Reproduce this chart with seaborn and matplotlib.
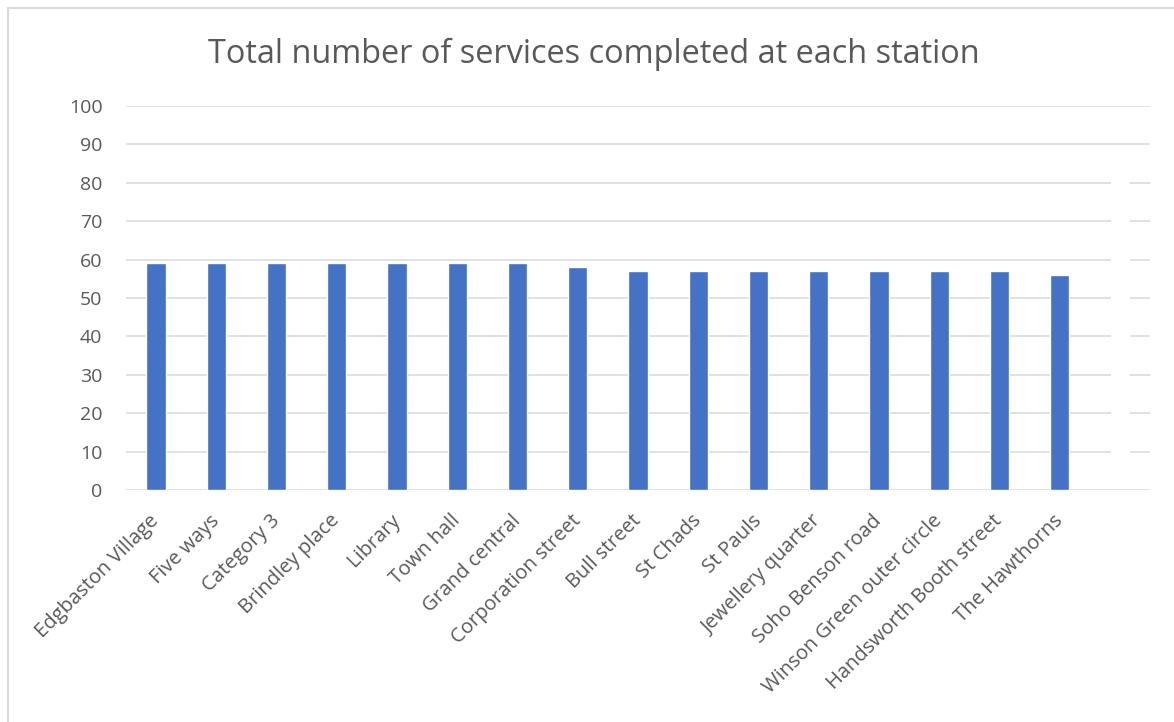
import pandas as pd
import matplotlib.pyplot as plt
import seaborn as sns
from matplotlib.lines import Line2D
from matplotlib.patches import Rectangle

# values
stations = ['Edgbaston Village', 'Five ways', 'Category 3', 'Brindley place', 'Library',
            'Town hall', 'Grand central', 'Corporation street', 'Bull street', 'St Chads',
            'St Pauls', 'Jewellery quarter', 'Soho Benson road', 'Winson Green outer circle',
            'Handsworth Booth street', 'The Hawthorns']
services = [59, 59, 59, 59, 59, 59, 59, 58, 57, 57, 57, 57, 57, 57, 57, 56]
y_ticks = [0, 10, 20, 30, 40, 50, 60, 70, 80, 90, 100]

df = pd.DataFrame({'Station': stations, 'Services': services})

sns.set_style('white')
plt.rcParams['font.family'] = ['Open Sans', 'DejaVu Sans']

fig = plt.figure(figsize=(11.74, 7.22), dpi=100)
ax = fig.add_axes([126 / 1174, 1 - 490 / 722, 1024 / 1174, 384 / 722])

sns.barplot(data=df, x='Station', y='Services', color='#4472C4', width=0.32,
            saturation=1, ax=ax, zorder=3)

# Excel left room for one more (empty) category on the right
ax.set_xlim(-0.5, len(stations) + 0.5)
ax.set_ylim(0, 100)
ax.set_yticks(y_ticks)
ax.set_axisbelow(True)
ax.yaxis.grid(True, color='#D9D9D9', linewidth=1.1)
for s in ax.spines.values():
    s.set_visible(False)
ax.set_xlabel('')
ax.set_ylabel('')
ax.tick_params(axis='y', length=0, pad=17, labelsize=14, labelcolor='#595959')
ax.tick_params(axis='x', length=0, pad=20, labelsize=14.5, labelcolor='#595959')
plt.setp(ax.get_xticklabels(), rotation=45, ha='right', va='center', rotation_mode='anchor')

# white patch seen at the right edge of the plot area
ax.add_patch(Rectangle((15.85, 0.6), 0.32, 88.9, facecolor='white', edgecolor='none', zorder=2))

fig.suptitle('Total number of services completed at each station', x=0.506, y=0.948,
             fontsize=23.4, color='#595959')

# chart frame (top and left edges only visible)
fig.add_artist(Line2D([7.5 / 1174, 1], [1 - 7.5 / 722] * 2, color='#D9D9D9', linewidth=1.5))
fig.add_artist(Line2D([7.5 / 1174] * 2, [0, 1 - 7.5 / 722], color='#D9D9D9', linewidth=1.5))

fig.savefig('out.png', dpi=100)
